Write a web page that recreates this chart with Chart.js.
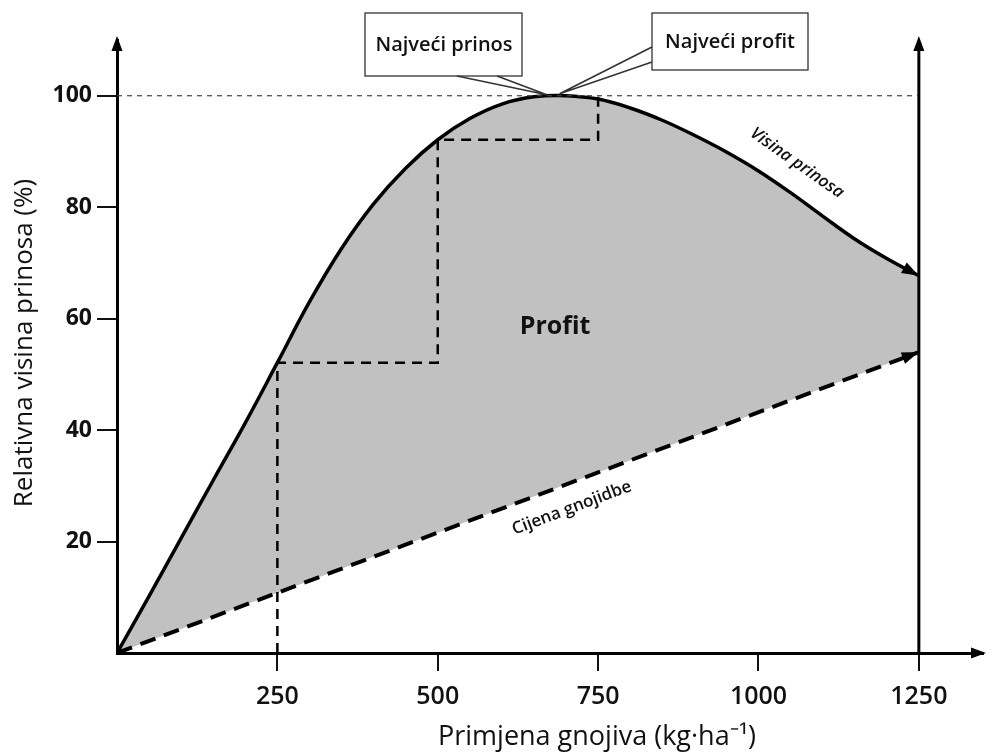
<!DOCTYPE html>
<html>
<head>
<meta charset="utf-8">
<script src="https://cdn.jsdelivr.net/npm/chart.js@4/dist/chart.umd.min.js"></script>
<style>
html, body { margin: 0; padding: 0; background: #fff; }
#okvir { width: 993px; height: 756px; }
</style>
</head>
<body>
<div id="okvir"><canvas id="grafik"></canvas></div>
<script>
// krivulja visine prinosa (ocitano sa slike)
const gnojivoX = [0, 50, 100, 150, 200, 250, 300, 350, 400, 450, 500, 550, 600, 650, 700, 750, 800, 850, 900, 950, 1000, 1050, 1100, 1150, 1200, 1250]
const prinosY = [0, 10.2, 20.6, 31, 41.3, 52.1, 63, 72.6, 80.6, 87, 92.1, 95.9, 98.5, 99.8, 100, 99.4, 97.8, 95.6, 92.9, 89.9, 86.5, 82.6, 78.4, 74.3, 70.8, 67.7]
// cijena gnojidbe (pravac)
const cijenaX = [0, 1250]
const cijenaY = [0, 54]
// isprekidane stepenice 250 / 500 / 750
const stepX = [250, 250, 500, 500, 750, 750]
const stepY = [0, 52.1, 52.1, 92.1, 92.1, 100]
// linija 100 %
const stoX = [0, 1250]
const stoY = [100, 100]
// oznake osi
const xTicks = [250, 500, 750, 1000, 1250]
const yTicks = [20, 40, 60, 80, 100]

function tocke(xs, ys) {
    return xs.map((x, i) => ({ x: x, y: ys[i] }))
}

function strelica(ctx, x, y, kut, duz, sir) {
    ctx.save()
    ctx.translate(x, y)
    ctx.rotate(kut)
    ctx.beginPath()
    ctx.moveTo(0, 0)
    ctx.lineTo(-duz, -sir / 2)
    ctx.lineTo(-duz, sir / 2)
    ctx.closePath()
    ctx.fill()
    ctx.restore()
}

function tekst(ctx, str, x, y, kut, font) {
    ctx.save()
    ctx.translate(x, y)
    ctx.rotate(kut)
    ctx.font = font
    ctx.textAlign = 'center'
    ctx.textBaseline = 'middle'
    ctx.fillText(str, 0, 0)
    ctx.restore()
}

// strelice, desna os, natpisi i okviri
const ukrasi = {
    id: 'ukrasi',
    afterDatasetsDraw(chart) {
        const ctx = chart.ctx
        const xs = chart.scales.x, ys = chart.scales.y
        const ca = chart.chartArea
        const px = v => xs.getPixelForValue(v)
        const py = v => ys.getPixelForValue(v)
        ctx.save()
        ctx.fillStyle = '#000'
        ctx.strokeStyle = '#000'

        // desna okomita os na 1250
        ctx.lineWidth = 3
        ctx.beginPath()
        ctx.moveTo(px(1250), ca.bottom)
        ctx.lineTo(px(1250), ca.top + 4)
        ctx.stroke()
        strelica(ctx, px(1250), ca.top - 4, -Math.PI / 2, 15, 11)
        strelica(ctx, ca.left, ca.top - 4, -Math.PI / 2, 15, 11)
        strelica(ctx, ca.right + 3, ca.bottom, 0, 15, 11)

        // strelica na kraju krivulje prinosa
        let n = gnojivoX.length
        let x1 = px(gnojivoX[n - 2]), y1 = py(prinosY[n - 2])
        let x2 = px(gnojivoX[n - 1]), y2 = py(prinosY[n - 1])
        strelica(ctx, x2, y2, Math.atan2(y2 - y1, x2 - x1), 17, 12)
        // strelica na kraju cijene
        let c1x = px(cijenaX[0]), c1y = py(cijenaY[0])
        let c2x = px(cijenaX[1]), c2y = py(cijenaY[1])
        let kutC = Math.atan2(c2y - c1y, c2x - c1x)
        strelica(ctx, c2x, c2y, kutC, 17, 12)

        // okviri s natpisima
        ctx.lineWidth = 1.3
        ctx.strokeStyle = '#333'
        ctx.fillStyle = '#fff'
        ctx.fillRect(365, 13, 157, 63)
        ctx.strokeRect(365, 13, 157, 63)
        ctx.fillRect(652, 13, 156, 57)
        ctx.strokeRect(652, 13, 156, 57)
        // jezicci prema vrhu
        let t1x = px(670), t1y = py(100)
        let t2x = px(690), t2y = py(100)
        ctx.lineWidth = 1.6
        ctx.beginPath()
        ctx.moveTo(457, 76); ctx.lineTo(t1x, t1y - 1); ctx.lineTo(497, 76)
        ctx.moveTo(652, 47); ctx.lineTo(t2x, t2y - 2); ctx.lineTo(652, 62)
        ctx.stroke()

        ctx.fillStyle = '#111'
        tekst(ctx, 'Najveći prinos', 444, 45, 0, '600 20px "Open Sans"')
        tekst(ctx, 'Najveći profit', 730, 42, 0, '600 20px "Open Sans"')
        tekst(ctx, 'Profit', px(683), py(58.5), 0, 'bold 25px "Open Sans"')
        tekst(ctx, 'Visina prinosa', px(1060), py(87.9), 35 * Math.PI / 180, 'italic 600 17px "Open Sans"')
        tekst(ctx, 'Cijena gnojidbe', px(709), py(26.9) + 5, kutC, '600 17px "Open Sans"')
        // naslovi osi
        tekst(ctx, 'Relativna visina prinosa (%)', 25, 343, -Math.PI / 2, '26px "Open Sans"')
        tekst(ctx, 'Primjena gnojiva (kg·ha⁻¹)', 597, 737, 0, '27px "Open Sans"')
        ctx.restore()
    }
}

Chart.defaults.font.family = '"Open Sans", sans-serif'
Chart.defaults.color = '#111'

new Chart(document.getElementById('grafik'), {
    type: 'line',
    data: {
        datasets: [{
            label: 'Visina prinosa',
            data: tocke(gnojivoX, prinosY),
            borderColor: '#000',
            borderWidth: 3.5,
            pointRadius: 0,
            tension: 0.4,
            fill: { target: 1 },
            backgroundColor: '#c1c1c1',
            order: 5
        }, {
            label: 'Cijena gnojidbe',
            data: tocke(cijenaX, cijenaY),
            borderColor: '#000',
            borderWidth: 4,
            borderDash: [16, 9],
            pointRadius: 0,
            fill: false,
            order: 2
        }, {
            label: 'stepenice',
            data: tocke(stepX, stepY),
            borderColor: '#000',
            borderWidth: 2.5,
            borderDash: [10, 7],
            pointRadius: 0,
            tension: 0,
            fill: false,
            order: 1
        }, {
            label: '100',
            data: tocke(stoX, stoY),
            borderColor: '#444',
            borderWidth: 1.2,
            borderDash: [5, 5],
            pointRadius: 0,
            fill: false,
            order: 0
        }]
    },
    options: {
        responsive: true,
        maintainAspectRatio: false,
        animation: false,
        layout: { padding: { top: 40, right: 10, left: 0, bottom: 0 } },
        plugins: {
            legend: { display: false },
            tooltip: { enabled: false }
        },
        scales: {
            x: {
                type: 'linear',
                min: 0,
                max: 1350,
                afterBuildTicks: s => { s.ticks = xTicks.map(v => ({ value: v })) },
                afterFit: s => { s.height = 103 },
                grid: { drawOnChartArea: false, drawTicks: true, tickLength: 18, color: '#111', lineWidth: 2 },
                border: { display: true, color: '#000', width: 3 },
                ticks: { font: { size: 25, weight: '600' }, padding: 11, maxRotation: 0, autoSkip: false, callback: v => String(v) },
                title: { display: false }
            },
            y: {
                type: 'linear',
                min: 0,
                max: 110,
                afterBuildTicks: s => { s.ticks = yTicks.map(v => ({ value: v })) },
                afterFit: s => { s.width = 117 },
                grid: { drawOnChartArea: false, drawTicks: true, tickLength: 20, color: '#111', lineWidth: 2 },
                border: { display: true, color: '#000', width: 3 },
                ticks: { font: { size: 23, weight: 'bold' }, padding: 5, callback: v => String(v) }
            }
        }
    },
    plugins: [ukrasi]
})
</script>
</body>
</html>
